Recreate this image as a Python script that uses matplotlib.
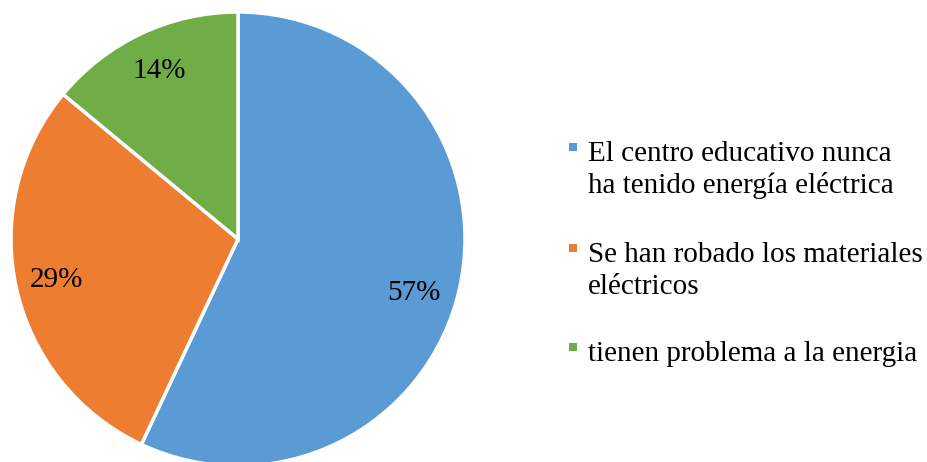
import matplotlib
matplotlib.use("Agg")
import matplotlib.pyplot as plt
import numpy as np
from matplotlib.patches import Rectangle

categories = ["El centro educativo nunca\nha tenido energía eléctrica",
              "Se han robado los materiales\neléctricos",
              "tienen problema a la energia"]
values = [57, 29, 14]
colors = ["#5B9BD5", "#ED7D31", "#70AD47"]

plt.rcParams['font.family'] = ['Liberation Serif', 'DejaVu Serif']

W, H = 928, 462
fig = plt.figure(figsize=(W/100, H/100), dpi=100)
cx, cy, r = 238, 462-239, 227
ax = fig.add_axes([(cx-r)/W, (cy-r)/H, 2*r/W, 2*r/H])
wedges, texts, autotexts = ax.pie(values, colors=colors, startangle=90, counterclock=False,
       autopct=lambda p: f"{p:.0f}%", pctdistance=0.82, radius=1,
       wedgeprops=dict(edgecolor="white", linewidth=2.5),
       textprops=dict(fontsize=21, color="black"))
# best-fit style placement for the largest slice label
ang = np.deg2rad(-17)
autotexts[0].set_position((0.81*np.cos(ang), 0.81*np.sin(ang)))
ax.set_xlim(-1, 1); ax.set_ylim(-1, 1)
ax.set_aspect('equal')
ax.axis('off')

# legend drawn manually (markers aligned with first line like the original)
baselines = [161, 262, 361]   # pixel rows of first-line baselines (from top)
line_gap = 32
for cat, col, bl in zip(categories, colors, baselines):
    fig.add_artist(Rectangle(((569)/W, (H - bl + 10)/H), 8/W, 8/H,
                             transform=fig.transFigure, color=col, lw=0))
    for i, line in enumerate(cat.split("\n")):
        fig.text(588/W, (H - bl - i*line_gap)/H, line, fontsize=21,
                 ha="left", va="baseline", color="black")

fig.savefig("out.png", dpi=100)
